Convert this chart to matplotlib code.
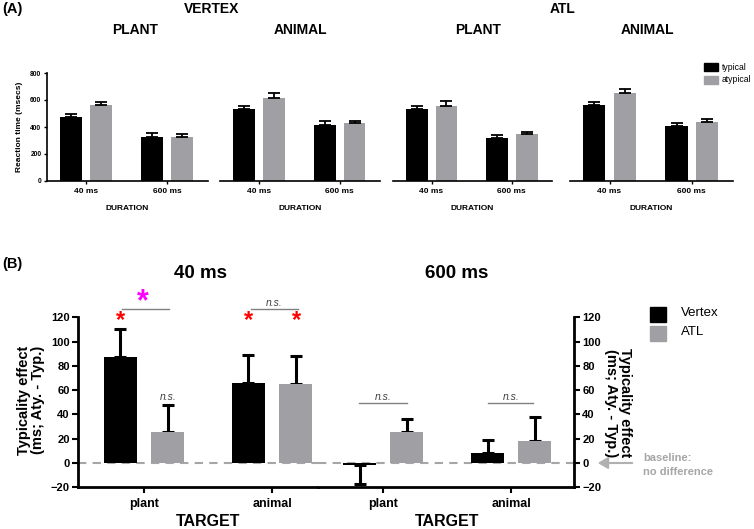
import numpy as np
import matplotlib
matplotlib.use("Agg")
import matplotlib.pyplot as plt

plt.rcParams['font.family'] = ['Liberation Sans', 'DejaVu Sans']

W, H = 754, 529

# ---- panel A data (reaction times, msec) ----
durations = ['40 ms', '600 ms']
a_titles = ['PLANT', 'ANIMAL', 'PLANT', 'ANIMAL']
a_typical = [[471, 328], [530, 414], [530, 320], [562, 409]]
a_typical_err = [[22, 25], [25, 30], [27, 20], [25, 22]]
a_atypical = [[560, 328], [617, 427], [555, 345], [649, 434]]
a_atypical_err = [[27, 20], [36, 19], [39, 18], [32, 22]]

# ---- panel B data (typicality effect, ms) ----
targets = ['plant', 'animal']
b_vertex_40 = [87.5, 65.5]
b_vertex_40_err = [22.5, 23.5]
b_atl_40 = [25.5, 65]
b_atl_40_err = [22.5, 23]
b_vertex_600 = [-2, 8.5]
b_vertex_600_err = [15, 10.5]
b_atl_600 = [25.5, 18.5]
b_atl_600_err = [10.5, 19.5]

BLACK = '#000000'
GRAY = '#a0a0a4'
TXTGRAY = '#a6a6a6'


def fx(x):
    return x / W


def fy(y):
    return 1 - y / H


def ftext(x, y, s, **kw):
    fig.text(fx(x), fy(y), s, transform=fig.transFigure, **kw)


fig = plt.figure(figsize=(W / 100, H / 100), dpi=100)

# ---------------- panel A ----------------
a_lefts = [47, 220, 393, 570]
a_rights = [208, 380, 552, 733]
a_title_x = [135, 300, 478, 647]
x = np.arange(len(durations))
for i in range(4):
    ax = fig.add_axes([fx(a_lefts[i]), fy(181), (a_rights[i] - a_lefts[i]) / W, 108 / H])
    ax.bar(x - 0.185, a_typical[i], 0.27, color=BLACK)
    ax.bar(x + 0.185, a_atypical[i], 0.27, color=GRAY)
    ax.errorbar(x - 0.185, a_typical[i], yerr=[[0, 0], a_typical_err[i]], fmt='none',
                ecolor=BLACK, elinewidth=1.3, capsize=4, capthick=1.3)
    ax.errorbar(x + 0.185, a_atypical[i], yerr=[[0, 0], a_atypical_err[i]], fmt='none',
                ecolor=BLACK, elinewidth=1.3, capsize=4, capthick=1.3)
    ax.set_xlim(-0.48, 1.5)
    ax.set_ylim(0, 800)
    ax.set_xticks(x)
    ax.set_xticklabels(durations, fontsize=6, fontweight='bold')
    ax.tick_params(axis='x', length=2, width=1, pad=3)
    for s in ['top', 'right']:
        ax.spines[s].set_visible(False)
    ax.spines['bottom'].set_linewidth(1.2)
    if i == 0:
        ax.set_yticks([0, 200, 400, 600, 800])
        ax.tick_params(axis='y', labelsize=4.8, length=2, width=1, pad=2)
        for lab in ax.get_yticklabels():
            lab.set_fontweight('bold')
        ax.spines['left'].set_linewidth(1.2)
        ax.set_ylabel('Reaction time (msecs)', fontsize=6, fontweight='bold', labelpad=5)
    else:
        ax.spines['left'].set_visible(False)
        ax.set_yticks([])
    ax.set_xlabel('DURATION', fontsize=6, fontweight='bold', labelpad=7)
    ftext(a_title_x[i], 30, a_titles[i], fontsize=10, fontweight='bold', ha='center', va='center')

ftext(2, 9, '(A)', fontsize=10.5, fontweight='bold', ha='left', va='center')
ftext(212, 9, 'VERTEX', fontsize=10, fontweight='bold', ha='center', va='center')
ftext(563, 9, 'ATL', fontsize=10, fontweight='bold', ha='center', va='center')

# legend A
for k, (lab, col) in enumerate([('typical', BLACK), ('atypical', GRAY)]):
    fig.patches.append(plt.Rectangle((fx(704), fy(71 + 13 * k)), 14 / W, 8 / H,
                                     transform=fig.transFigure, color=col))
    ftext(722, 67 + 13 * k, lab, fontsize=6.2, ha='left', va='center')

# ---------------- panel B ----------------
y_bot, y_top = 487.3, 317.3
b_height = (y_bot - y_top) / H
axL = fig.add_axes([fx(78), fy(y_bot), 240 / W, b_height])
axR = fig.add_axes([fx(318), fy(y_bot), 256 / W, b_height])

xb = np.arange(len(targets))
off, bw = 0.184, 0.26


def draw_b(ax, vert, vert_err, atl, atl_err):
    ax.bar(xb - off, vert, bw, color=BLACK, zorder=3)
    ax.bar(xb + off, atl, bw, color=GRAY, zorder=3)
    for xs, vals, errs in [(xb - off, vert, vert_err), (xb + off, atl, atl_err)]:
        for xv, v, e in zip(xs, vals, errs):
            lo, hi = (0, e) if v >= 0 else (e, 0)
            ax.errorbar([xv], [v], yerr=[[lo], [hi]], fmt='none', ecolor=BLACK,
                        elinewidth=2.2, capsize=4.5, capthick=2.2, zorder=2)
    ax.axhline(0, color=TXTGRAY, lw=1.5, ls=(0, (4, 3)), zorder=1)
    ax.set_ylim(-20, 120)
    ax.set_xticks(xb)
    ax.set_xticklabels(targets, fontsize=9, fontweight='bold')
    ax.tick_params(axis='x', length=4, width=1.5, pad=4)
    ax.spines['top'].set_visible(False)
    ax.spines['bottom'].set_linewidth(2)


draw_b(axL, b_vertex_40, b_vertex_40_err, b_atl_40, b_atl_40_err)
draw_b(axR, b_vertex_600, b_vertex_600_err, b_atl_600, b_atl_600_err)
axL.set_xlim(-0.516, 1.359)
axR.set_xlim(-0.508, 1.49)

yt = [-20, 0, 20, 40, 60, 80, 100, 120]
axL.spines['right'].set_visible(False)
axL.spines['left'].set_linewidth(2)
axL.set_yticks(yt)
axL.tick_params(axis='y', labelsize=8, length=4, width=1.5, pad=2)

axR.spines['left'].set_visible(False)
axR.spines['right'].set_linewidth(2)
axR.yaxis.tick_right()
axR.set_yticks(yt)
axR.tick_params(axis='y', labelsize=8, length=4, width=1.5, pad=2)
for ax in (axL, axR):
    for lab in ax.get_yticklabels():
        lab.set_fontweight('bold')

ylab = 'Typicality effect\n(ms; Aty. - Typ.)'
ftext(31, 400, ylab, fontsize=10.5, fontweight='bold', rotation=90,
      ha='center', va='center', linespacing=1.0)
ftext(618, 403, ylab, fontsize=10.5, fontweight='bold', rotation=-90,
      ha='center', va='center', linespacing=1.0)
ftext(208, 522, 'TARGET', fontsize=11.5, fontweight='bold', ha='center', va='center')
ftext(447, 522, 'TARGET', fontsize=11.5, fontweight='bold', ha='center', va='center')

ftext(2, 264, '(B)', fontsize=10.5, fontweight='bold', ha='left', va='center')
ftext(200, 273, '40 ms', fontsize=13.5, fontweight='bold', ha='center', va='center')
ftext(457, 273, '600 ms', fontsize=13.5, fontweight='bold', ha='center', va='center')

# significance marks
ftext(120, 321, '*', fontsize=17, fontweight='bold', color='red', ha='center', va='center')
ftext(248, 321, '*', fontsize=17, fontweight='bold', color='red', ha='center', va='center')
ftext(296, 321, '*', fontsize=17, fontweight='bold', color='red', ha='center', va='center')
ftext(143, 302, '*', fontsize=22, fontweight='bold', color='magenta', ha='center', va='center')

for x0, x1, yl in [(122, 169, 309), (251, 298, 309), (359, 407, 403), (488, 533, 403)]:
    fig.add_artist(plt.Line2D([fx(x0), fx(x1)], [fy(yl), fy(yl)], transform=fig.transFigure,
                              color='#808080', lw=1))
for xs, ys in [(168, 397), (274, 303), (383, 397), (511, 397)]:
    ftext(xs, ys, 'n.s.', fontsize=7.5, style='italic', color='#404040', ha='center', va='center')

# baseline arrow
fig.add_artist(matplotlib.patches.FancyArrowPatch(
    (fx(635), fy(463)), (fx(595), fy(463)), transform=fig.transFigure,
    arrowstyle='-|>,head_length=6,head_width=3.5', color='#b0b0b0', lw=1.5))
ftext(643, 458, 'baseline:', fontsize=8, fontweight='bold', color=TXTGRAY, ha='left', va='center')
ftext(643, 472, 'no difference', fontsize=8, fontweight='bold', color=TXTGRAY, ha='left', va='center')

# legend B
for k, (lab, col) in enumerate([('Vertex', BLACK), ('ATL', GRAY)]):
    fig.patches.append(plt.Rectangle((fx(650), fy(322 + 19 * k)), 16 / W, 15 / H,
                                     transform=fig.transFigure, color=col))
    ftext(681, 313 + 19 * k, lab, fontsize=9.5, ha='left', va='center')

fig.savefig('out.png', dpi=100)
